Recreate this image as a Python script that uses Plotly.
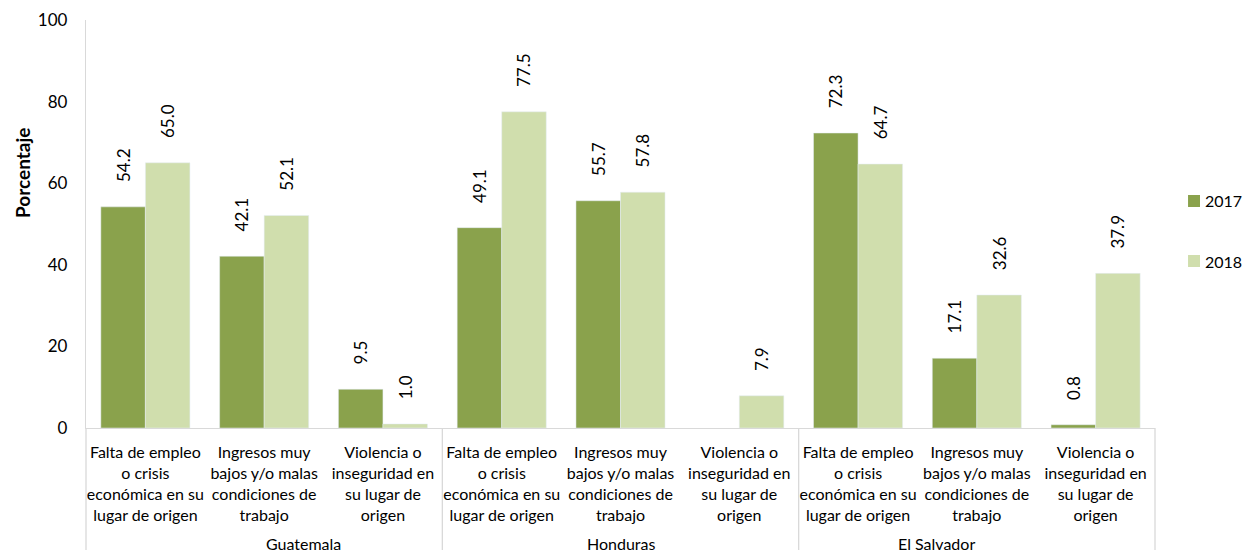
import plotly.graph_objects as go

countries = ["Guatemala", "Honduras", "El Salvador"]
reasons = [
    "Falta de empleo<br>o crisis<br>económica en su<br>lugar de origen",
    "Ingresos muy<br>bajos y/o malas<br>condiciones de<br>trabajo",
    "Violencia o<br>inseguridad en<br>su lugar de<br>origen",
]
years = ["2017", "2018"]
values_2017 = [54.2, 42.1, 9.5, 49.1, 55.7, None, 72.3, 17.1, 0.8]
values_2018 = [65.0, 52.1, 1.0, 77.5, 57.8, 7.9, 64.7, 32.6, 37.9]
tick_labels = reasons * 3
yticks = [0, 20, 40, 60, 80, 100]
colors = ["#8AA24C", "#D0DEAD"]

FONT = "Lato, 'Open Sans', sans-serif"
x = list(range(len(tick_labels)))
PAD = "\u00a0" * 5

def fmt(v):
    return "" if v is None else PAD + f"{v:.1f}"

fig = go.Figure()
for name, vals, col in zip(years, [values_2017, values_2018], colors):
    fig.add_trace(go.Bar(
        x=x, y=vals, name=name, marker_color=col,
        text=[fmt(v) for v in vals], textposition="outside", textangle=-90,
        constraintext="none", showlegend=False,
        textfont=dict(size=17, color="#000000", family=FONT), cliponaxis=False,
    ))

# custom legend (squares + labels) at the right
legend_y = [0.5564, 0.4093]
for name, col, ly in zip(years, colors, legend_y):
    fig.add_shape(type="rect", xref="paper", yref="paper",
                  x0=1.0309, x1=1.0421, y0=ly - 0.0147, y1=ly + 0.0147,
                  fillcolor=col, line=dict(width=0))
    fig.add_annotation(text=name, xref="paper", yref="paper", x=1.0450, y=ly,
                       xanchor="left", yanchor="middle", showarrow=False,
                       font=dict(size=16, family=FONT, color="#000000"))

# group dividers
for b in [0, 1/3, 2/3, 1]:
    fig.add_shape(type="line", xref="paper", yref="paper", x0=b, x1=b, y0=0, y1=-0.30,
                  line=dict(color="#D9D9D9", width=1.3))
for i, c in enumerate(countries):
    fig.add_annotation(text=c, xref="paper", yref="paper", x=(2 * i + 1) / 6, y=-0.282,
                       showarrow=False, yanchor="middle",
                       font=dict(size=16, family=FONT, color="#000000"))

fig.add_annotation(text="<b>Porcentaje</b>", xref="paper", yref="paper",
                   x=-0.0599, y=0.625, textangle=-90, showarrow=False,
                   xanchor="center", yanchor="middle",
                   font=dict(size=19, family=FONT, color="#000000"))

fig.update_layout(
    width=1244, height=542,
    margin=dict(l=78, r=97, t=12, b=122, autoexpand=False),
    paper_bgcolor="white", plot_bgcolor="white",
    barmode="group", bargap=0.25, bargroupgap=0,
    font=dict(family=FONT, color="#000000"),
    showlegend=False,
    xaxis=dict(range=[-0.5, 8.5], tickmode="array", tickvals=x, ticktext=tick_labels,
               tickangle=0, tickfont=dict(size=16, family=FONT),
               ticklabelstandoff=10,
               showline=True, linecolor="#D9D9D9", linewidth=1.3,
               ticks="", showgrid=False, zeroline=False),
    yaxis=dict(range=[0, 100], tickvals=yticks, tickfont=dict(size=17, family=FONT),
               showline=True, linecolor="#D9D9D9", linewidth=1.3, ticks="",
               ticklabelstandoff=14,
               showgrid=False, zeroline=False),
)

fig.write_html("out.html")
